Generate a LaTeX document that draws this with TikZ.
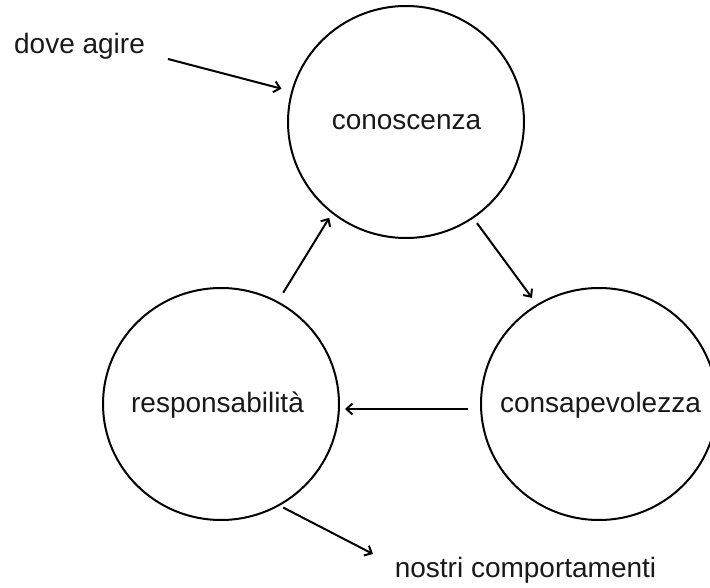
\documentclass[tikz,border=0pt]{standalone}
\usepackage{fontspec}
\setmainfont{Liberation Sans}
\usetikzlibrary{arrows.meta,shapes.geometric}
\begin{document}
\begin{tikzpicture}[x=1pt,y=-1pt,
  circ/.style={draw,ellipse,line width=2pt,minimum width=236pt,minimum height=232pt,inner sep=0pt},
  txt/.style={inner sep=0pt,anchor=base,text=black!90,font=\fontsize{28}{32}\selectfont},
  arr/.style={line width=2pt,-{Straight Barb[length=6pt,width=11pt,line width=2pt]}}]
\useasboundingbox (0,0) rectangle (710,588);
\node[circ] (con) at (406,122) {};
\node[circ] (resp) at (221,404) {};
\node[circ] (cons) at (599,404) {};
\node[txt] (conT) at (406.5,129.5) {conoscenza};
\node[txt] (respT) at (217.5,412) {responsabilità};
\node[txt] (consT) at (600.5,412) {consapevolezza};
\node[txt] (dove) at (79.5,53.5) {dove agire};
\node[txt] (nostri) at (525.5,577) {nostri comportamenti};
\coordinate (dvs) at (168,59);
\coordinate (nc) at (373,554);
\draw[arr,shorten >=10pt] (dvs) -- (con.165);
\draw[arr,shorten <=6pt,shorten >=8pt] (con.-55) -- (cons.122);
\draw[arr] ([xshift=-12pt,yshift=-5pt]cons.west) -- ([xshift=5pt,yshift=-5pt]resp.east);
\draw[arr,shorten <=10pt,shorten >=5pt] (resp.61) -- (con.-129);
\draw[arr,shorten <=4pt] (resp.-60) -- (nc);
\end{tikzpicture}
\end{document}
